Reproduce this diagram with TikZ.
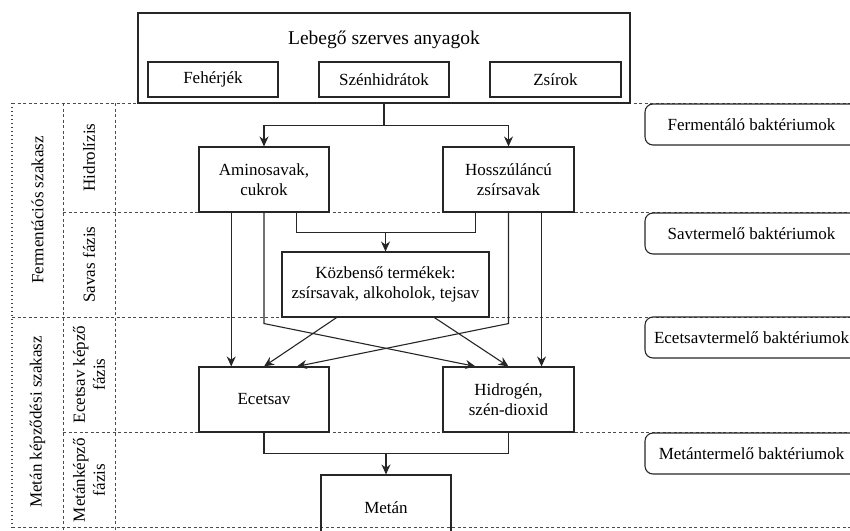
\documentclass[tikz,border=0pt]{standalone}
\usepackage{fontspec}
\setmainfont{Liberation Serif}
\newfontfamily\diagfont{Liberation Serif}
\usetikzlibrary{arrows.meta,calc}
\begin{document}
\begin{tikzpicture}[x=1pt,y=-1pt,
  box/.style={draw=black!85, line width=1.1pt, inner sep=0pt, align=center, font=\diagfont\fontsize{17}{20}\selectfont},
  bact/.style={box, rounded corners=8pt, minimum width=213pt, minimum height=41pt},
  conn/.style={draw=black!85, line width=1.1pt},
  arr/.style={conn, -{Stealth[length=10pt,width=9pt]}},
  sep/.style={draw=black!70, line width=0.9pt, dash pattern=on 3pt off 2.5pt},
  dotsep/.style={draw=black!75, line width=1.1pt, dash pattern=on 1pt off 3pt},
  lab/.style={font=\diagfont\fontsize{17}{20}\selectfont, align=center, rotate=90, inner sep=0pt}
]
\useasboundingbox (0,0) rectangle (850,530);
\clip (0,0) rectangle (850,530);
% separators
\draw[sep] (12,103) -- (850,103);
\draw[sep] (63,212) -- (850,212);
\draw[sep] (12,317) -- (850,317);
\draw[sep] (63,432) -- (850,432);
\draw[sep] (12,527) -- (850,527);
\draw[dotsep] (12,103) -- (12,530);
\draw[sep] (63,103) -- (63,530);
\draw[sep] (115,103) -- (115,530);
% left labels
\node[lab] (ferm) at (37.5,210) {Fermentációs szakasz};
\node[lab] (metsz) at (37.5,422) {Metán képződési szakasz};
\node[lab] (hidr) at (89,157.5) {Hidrolízis};
\node[lab] (savas) at (89,264.5) {Savas fázis};
\node[lab] (ecetk) at (89,374.5) {Ecetsav képző\\fázis};
\node[lab] (metk) at (89,480) {Metánképző\\fázis};
% main boxes
\node[box, minimum width=492pt, minimum height=90pt] (top) at (384,58) {};
\node[font=\diagfont\fontsize{19.5}{22}\selectfont, inner sep=0pt] (title) at (384,40) {Lebegő szerves anyagok};
\node[box, minimum width=130pt, minimum height=35pt] (feher) at (213,79.5) {Fehérjék};
\node[box, minimum width=130pt, minimum height=35pt] (szen) at (384,79.5) {Szénhidrátok};
\node[box, minimum width=131pt, minimum height=35pt] (zsir) at (555.5,79.5) {Zsírok};
\node[box, minimum width=130pt, minimum height=65pt] (amino) at (264,179.5) {Aminosavak,\\cukrok};
\node[box, minimum width=131pt, minimum height=65pt] (hossz) at (508.5,179.5) {Hosszúláncú\\zsírsavak};
\node[box, minimum width=207pt, minimum height=65pt] (kozb) at (385.5,284.5) {Közbenső termékek:\\zsírsavak, alkoholok, tejsav};
\node[box, minimum width=130pt, minimum height=65pt] (ecet) at (264,399.5) {Ecetsav};
\node[box, minimum width=131pt, minimum height=65pt] (hidro) at (508.5,399.5) {Hidrogén,\\szén-dioxid};
\node[box, minimum width=130pt, minimum height=65pt] (metan) at (386,507.5) {Metán};
% bacteria
\node[bact] (b1) at (751.5,124.5) {Fermentáló baktériumok};
\node[bact] (b2) at (751.5,233.5) {Savtermelő baktériumok};
\node[bact] (b3) at (751.5,337.5) {Ecetsavtermelő baktériumok};
\node[bact] (b4) at (751.5,453.5) {Metántermelő baktériumok};
% connectors
\coordinate (split) at ($(top.south)+(0,22)$);
\draw[conn] (top.south) -- (split);
\draw[arr] (split) -| (amino.north);
\draw[arr] (split) -| (hossz.north);
\coordinate (a1) at ($(amino.south west)!0.25!(amino.south east)$);
\coordinate (a3) at ($(amino.south west)!0.75!(amino.south east)$);
\coordinate (h1) at ($(hossz.south west)!0.25!(hossz.south east)$);
\coordinate (h3) at ($(hossz.south west)!0.75!(hossz.south east)$);
\coordinate (e3) at ($(ecet.north west)!0.75!(ecet.north east)$);
\coordinate (d1) at ($(hidro.north west)!0.25!(hidro.north east)$);
\coordinate (k1) at ($(kozb.south west)!0.265!(kozb.south east)$);
\coordinate (k3) at ($(kozb.south west)!0.735!(kozb.south east)$);
\draw[arr] (a1) -- (a1 |- ecet.north);
\draw[arr] (h3) -- (h3 |- hidro.north);
\draw[conn] (a3) -- ++(0,20) coordinate (m1) -- (m1 -| h1) -- (h1);
\draw[arr] (kozb.north |- m1) -- (kozb.north);
\draw[arr] (amino.south) -- ++(0,111) -- (d1);
\draw[arr] (hossz.south) -- ++(0,111) -- (e3);
\draw[arr] (k1) -- (ecet.north);
\draw[arr] (k3) -- (hidro.north);
\draw[conn] (ecet.south) -- ++(0,21) coordinate (bj) -- (bj -| hidro.south) -- (hidro.south);
\draw[arr] (metan.north |- bj) -- (metan.north);
\end{tikzpicture}
\end{document}
